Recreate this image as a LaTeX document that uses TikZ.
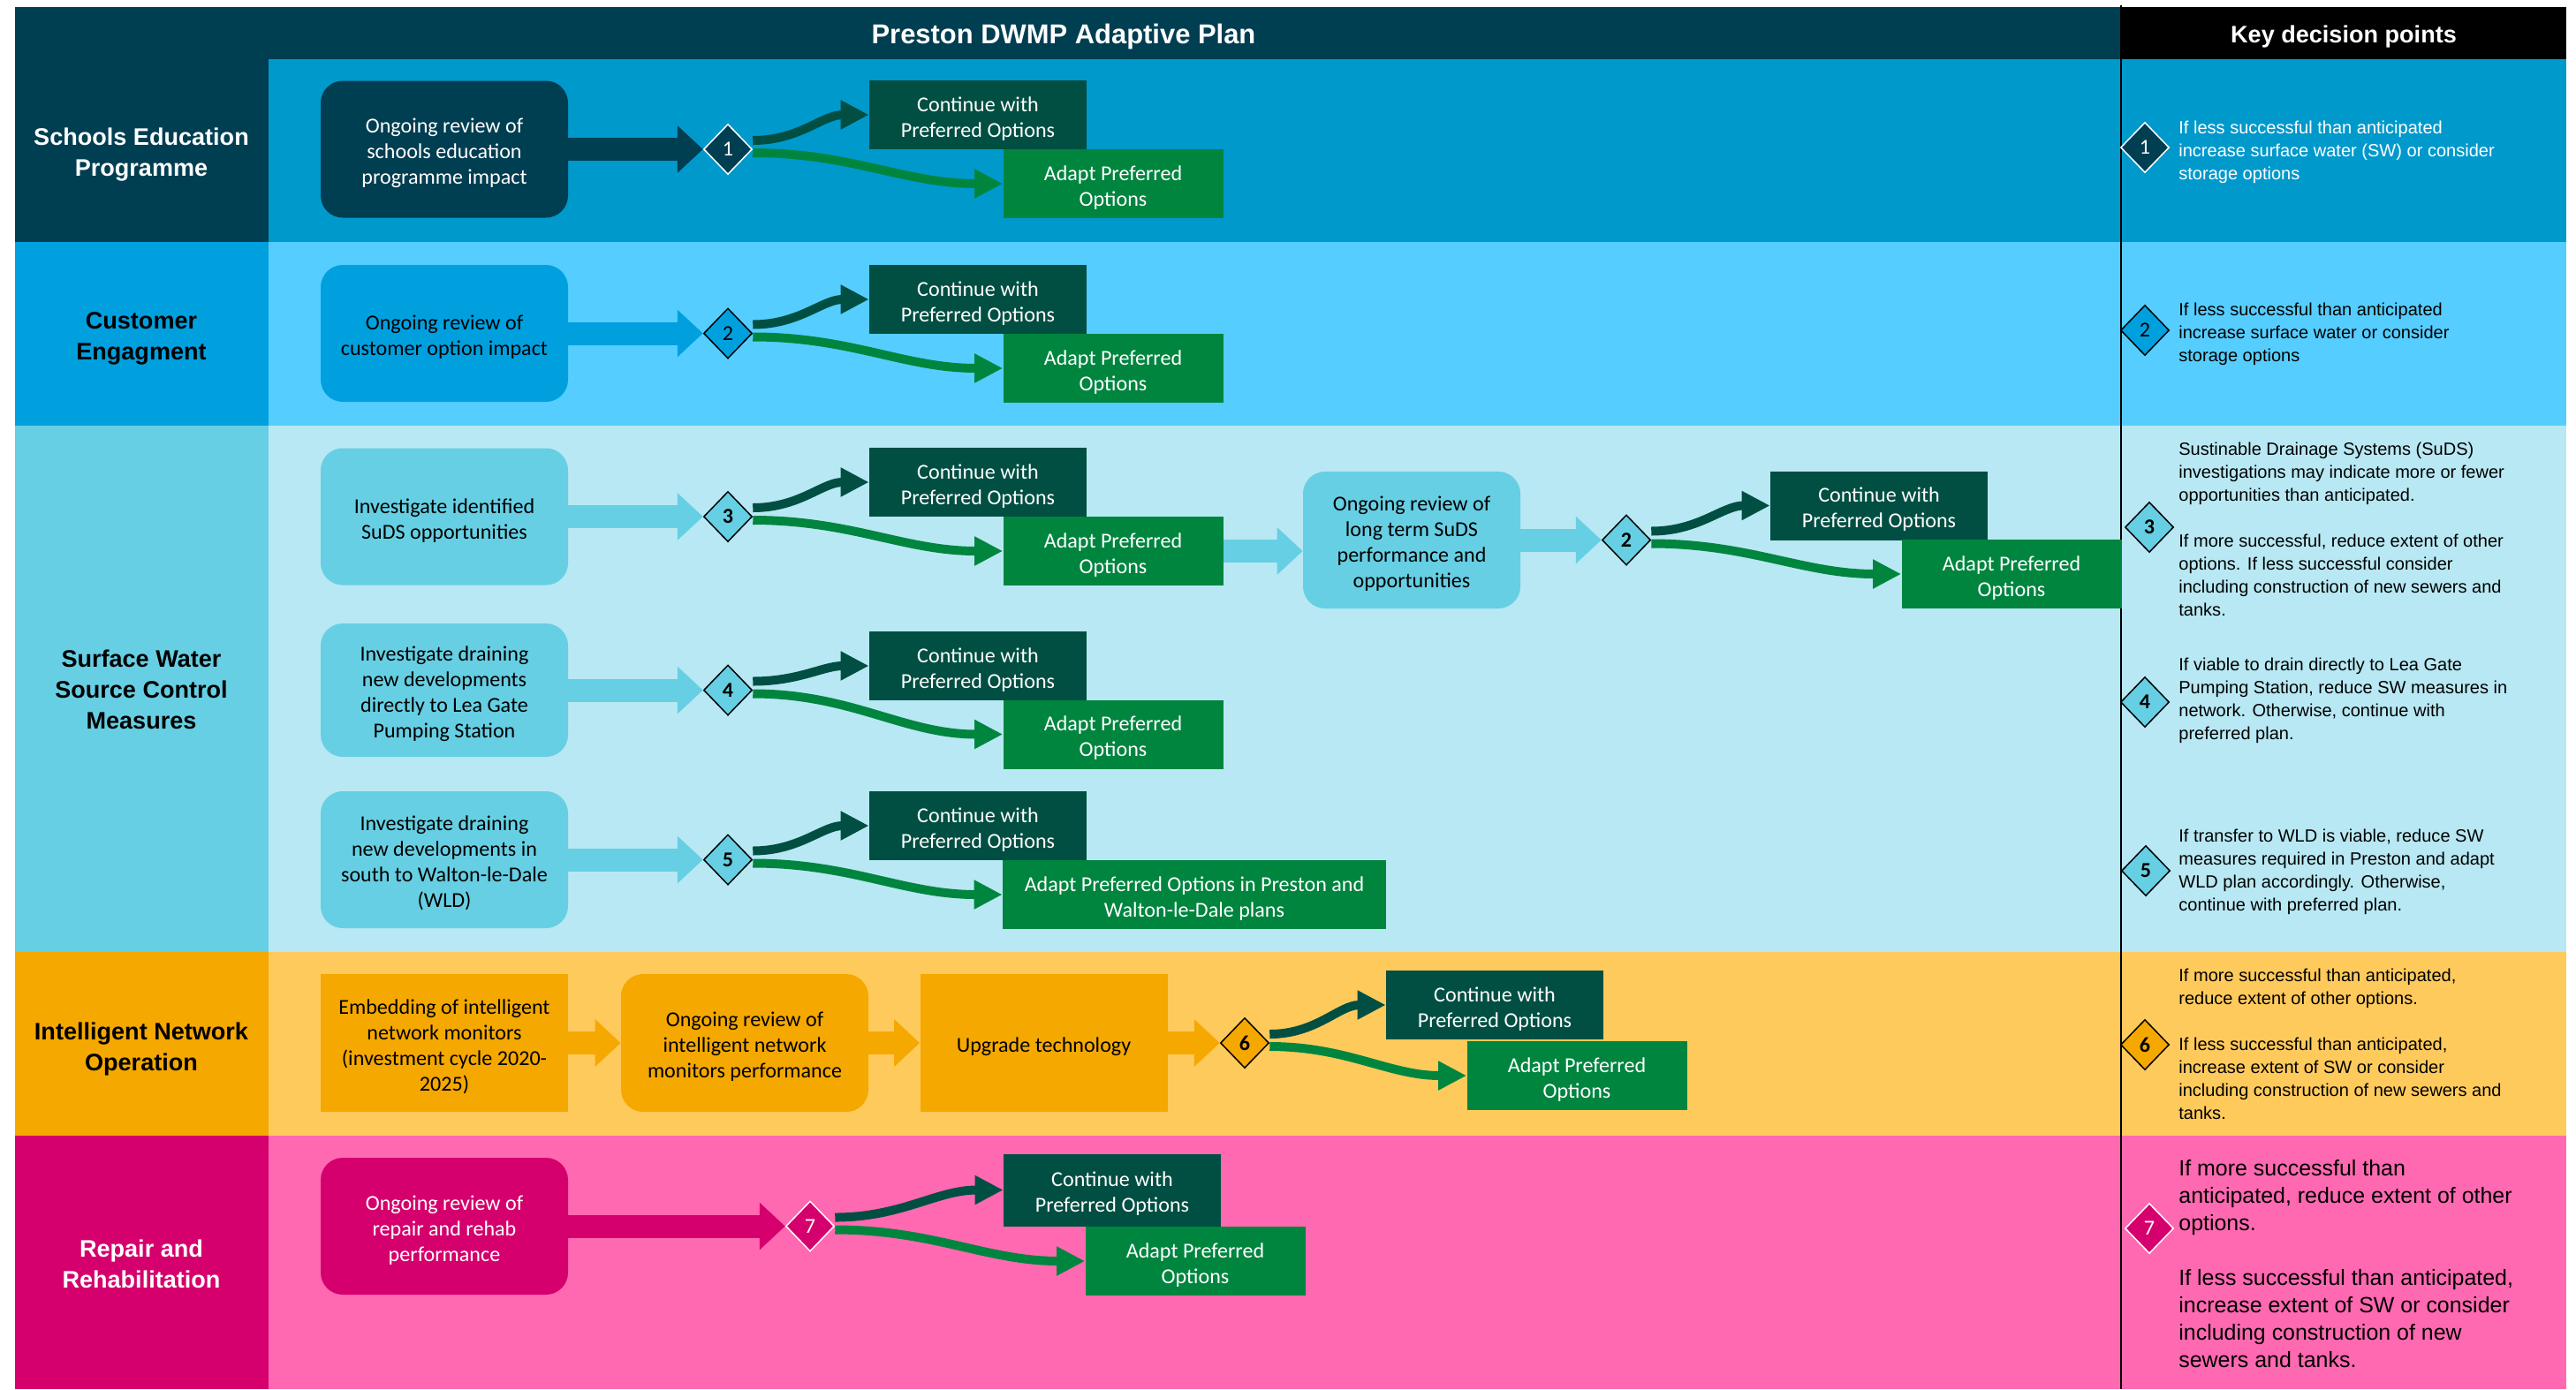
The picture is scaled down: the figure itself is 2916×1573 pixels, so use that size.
\documentclass[tikz,border=0pt]{standalone}
\usepackage{fontspec}
\setmainfont{Carlito}
\newfontfamily\arialf{Liberation Sans}
\usetikzlibrary{shapes.geometric,arrows.meta,positioning}

\definecolor{hdrblue}{HTML}{003E51}
\definecolor{rowa}{HTML}{0099CC}
\definecolor{lanb}{HTML}{00A0DF}
\definecolor{rowb}{HTML}{55CEFF}
\definecolor{lanc}{HTML}{66CFE3}
\definecolor{rowc}{HTML}{B8E8F3}
\definecolor{land}{HTML}{F5A800}
\definecolor{rowd}{HTML}{FFCA5C}
\definecolor{lanep}{HTML}{D5006D}
\definecolor{rowe}{HTML}{FF69B1}
\definecolor{contgreen}{HTML}{004F42}
\definecolor{adaptgreen}{HTML}{00853F}

% strut that lowers box text a little
\newcommand{\bxs}{\rule{0pt}{14.2pt}}

\begin{document}
\begin{tikzpicture}[x=0.2mm,y=-0.2mm,
	boxtext/.style={font=\fontsize{13.7}{16.5}\selectfont, align=center, inner sep=0pt},
	rbox/.style={boxtext, rounded corners=5mm, minimum width=56mm, minimum height=31mm},
	sbox/.style={boxtext, minimum width=56mm, minimum height=31.2mm},
	contbox/.style={boxtext, fill=contgreen, text=white, minimum width=49.2mm, minimum height=15.6mm},
	adaptbox/.style={boxtext, fill=adaptgreen, text=white, minimum width=49.8mm, minimum height=15.6mm},
	dia/.style={diamond, aspect=1, minimum width=11mm, minimum height=11.4mm, inner sep=0pt, line width=0.3mm, font=\fontsize{13.7}{16}\selectfont},
	boldnum/.style={font=\fontsize{13.7}{16}\selectfont\bfseries},
	blk/.style={line width=5.2mm, -{Triangle[length=5.8mm,width=10.4mm]}},
	carr/.style={line width=2mm, -{Triangle[length=6.4mm,width=6.2mm]}},
	lanetitle/.style={font=\arialf\bfseries\fontsize{15.4}{19.9}\selectfont, align=center},
	keytext/.style={font=\arialf\fontsize{11.4}{14.8}\selectfont, align=left, anchor=west, inner sep=0pt},
	]
	\useasboundingbox (0,0) rectangle (2916,1573);
	
	% lanes
	\fill[hdrblue] (17,8) rectangle (2401,67);
	\fill[black] (2401,8) rectangle (2905,67);
	\fill[hdrblue] (17,67) rectangle (304,274);
	\fill[rowa] (304,67) rectangle (2905,274);
	\fill[lanb] (17,274) rectangle (304,482);
	\fill[rowb] (304,274) rectangle (2905,482);
	\fill[lanc] (17,482) rectangle (304,1078);
	\fill[rowc] (304,482) rectangle (2905,1078);
	\fill[land] (17,1078) rectangle (304,1286);
	\fill[rowd] (304,1078) rectangle (2905,1286);
	\fill[lanep] (17,1286) rectangle (304,1573);
	\fill[rowe] (304,1286) rectangle (2905,1573);
	\draw[line width=0.4mm] (2401,6) -- (2401,1573);
	
	\node[font=\arialf\bfseries\fontsize{17.6}{20}\selectfont, text=white] (title) at (1204,41) {Preston DWMP Adaptive Plan};
	\node[font=\arialf\bfseries\fontsize{15.4}{18}\selectfont, text=white] (keyhead) at (2653,41) {Key decision points};
	
	\node[lanetitle, text=white] (l1) at (160,175) {Schools Education\\Programme};
	\node[lanetitle] (l2) at (160,383) {Customer\\Engagment};
	\node[lanetitle] (l3) at (160,781) {Surface Water\\Source Control\\Measures};
	\node[lanetitle] (l4) at (160,1188) {Intelligent Network\\Operation};
	\node[lanetitle, text=white] (l5) at (160,1431) {Repair and\\Rehabilitation};
	
	% schools education
	\node[rbox, fill=hdrblue, text=white] (b1) at (503,169) {\bxs Ongoing review of\\schools education\\programme impact};
	\node[dia, fill=hdrblue, draw=white, text=white] (d1) at (824,169) {1};
	\node[contbox] (c1) at (1107,130) {\bxs Continue with\\Preferred Options};
	\node[adaptbox] (a1) at (1260,208) {\bxs Adapt Preferred\\Options};
	\draw[blk, hdrblue] (b1) -- (d1);
	\draw[carr, contgreen] ([yshift=2mm]d1.east) to[out=0,in=180] (c1.west);
	\draw[carr, adaptgreen] ([yshift=-0.8mm]d1.east) to[out=0,in=180] (a1.west);
	
	% customer engagement
	\node[rbox, fill=lanb] (b2) at (503,377.5) {\bxs Ongoing review of\\customer option impact};
	\node[dia, fill=lanb, draw=black] (d2) at (824,377.5) {2};
	\node[contbox] (c2) at (1107,339) {\bxs Continue with\\Preferred Options};
	\node[adaptbox] (a2) at (1260,417) {\bxs Adapt Preferred\\Options};
	\draw[blk, lanb] (b2) -- (d2);
	\draw[carr, contgreen] ([yshift=2mm]d2.east) to[out=0,in=180] (c2.west);
	\draw[carr, adaptgreen] ([yshift=-0.8mm]d2.east) to[out=0,in=180] (a2.west);
	
	% surface water source control
	\node[rbox, fill=lanc] (b3) at (503,585) {\bxs Investigate identified\\SuDS opportunities};
	\node[dia, boldnum, fill=lanc, draw=black] (d3) at (824,585) {3};
	\node[contbox] (c3) at (1107,546) {\bxs Continue with\\Preferred Options};
	\node[adaptbox] (a3) at (1260,624) {\bxs Adapt Preferred\\Options};
	\draw[blk, lanc] (b3) -- (d3);
	\draw[carr, contgreen] ([yshift=2mm]d3.east) to[out=0,in=180] (c3.west);
	\draw[carr, adaptgreen] ([yshift=-0.8mm]d3.east) to[out=0,in=180] (a3.west);
	
	\node[rbox, fill=lanc, minimum width=49.2mm] (r3) at (1598,611.5) {\bxs Ongoing review of\\long term SuDS\\performance and\\opportunities};
	\node[dia, boldnum, fill=lanc, draw=black] (e3) at (1841,611.5) {2};
	\node[contbox] (c3b) at (2127,572.5) {\bxs Continue with\\Preferred Options};
	\node[adaptbox] (a3b) at (2277,650) {\bxs Adapt Preferred\\Options};
	\draw[blk, lanc] (a3.east) -- (a3.east -| r3.west);
	\draw[blk, lanc] (r3) -- (e3);
	\draw[carr, contgreen] ([yshift=2mm]e3.east) to[out=0,in=180] (c3b.west);
	\draw[carr, adaptgreen] ([yshift=-0.8mm]e3.east) to[out=0,in=180] (a3b.west);
	
	\node[rbox, fill=lanc, minimum height=30.2mm] (b4) at (503,781.5) {\bxs Investigate draining\\new developments\\directly to Lea Gate\\Pumping Station};
	\node[dia, boldnum, fill=lanc, draw=black] (d4) at (824,781.5) {4};
	\node[contbox] (c4) at (1107,754) {\bxs Continue with\\Preferred Options};
	\node[adaptbox] (a4) at (1260,831.5) {\bxs Adapt Preferred\\Options};
	\draw[blk, lanc] (b4) -- (d4);
	\draw[carr, contgreen] ([yshift=2mm]d4.east) to[out=0,in=180] (c4.west);
	\draw[carr, adaptgreen] ([yshift=-0.8mm]d4.east) to[out=0,in=180] (a4.west);
	
	\node[rbox, fill=lanc] (b5) at (503,973.5) {\bxs Investigate draining\\new developments in\\south to Walton-le-Dale\\(WLD)};
	\node[dia, boldnum, fill=lanc, draw=black] (d5) at (824,973.5) {5};
	\node[contbox] (c5) at (1107,935) {\bxs Continue with\\Preferred Options};
	\node[adaptbox, minimum width=86.8mm] (a5) at (1352,1013) {\bxs Adapt Preferred Options in Preston and\\Walton-le-Dale plans};
	\draw[blk, lanc] (b5) -- (d5);
	\draw[carr, contgreen] ([yshift=2mm]d5.east) to[out=0,in=180] (c5.west);
	\draw[carr, adaptgreen] ([yshift=-0.8mm]d5.east) to[out=0,in=180] (a5.west);
	
	% intelligent network operation
	\node[sbox, fill=land] (b6a) at (503,1181) {\bxs Embedding of intelligent\\network monitors\\(investment cycle 2020-\\2025)};
	\node[rbox, fill=land, minimum height=31.2mm] (b6b) at (843,1181) {\bxs Ongoing review of\\intelligent network\\monitors performance};
	\node[sbox, fill=land] (b6c) at (1181.5,1181) {\bxs Upgrade technology};
	\node[dia, boldnum, fill=land, draw=black] (d6) at (1409,1181) {6};
	\node[contbox] (c6) at (1692,1138) {\bxs Continue with\\Preferred Options};
	\node[adaptbox] (a6) at (1785,1218) {\bxs Adapt Preferred\\Options};
	\draw[blk, land] (b6a) -- (b6b);
	\draw[blk, land] (b6b) -- (b6c);
	\draw[blk, land] (b6c) -- (d6);
	\draw[carr, contgreen] ([yshift=2mm]d6.east) to[out=0,in=180] (c6.west);
	\draw[carr, adaptgreen] ([yshift=-0.8mm]d6.east) to[out=0,in=180] (a6.west);
	
	% repair and rehabilitation
	\node[rbox, fill=lanep, text=white] (b7) at (503,1388.5) {\bxs Ongoing review of\\repair and rehab\\performance};
	\node[dia, fill=lanep, draw=white, text=white] (d7) at (917,1388.5) {7};
	\node[contbox, minimum height=16.4mm] (c7) at (1259,1347.5) {\bxs Continue with\\Preferred Options};
	\node[adaptbox] (a7) at (1353,1428) {\bxs Adapt Preferred\\Options};
	\draw[blk, lanep] (b7) -- (d7);
	\draw[carr, contgreen] ([yshift=2mm]d7.east) to[out=0,in=180] (c7.west);
	\draw[carr, adaptgreen] ([yshift=-0.8mm]d7.east) to[out=0,in=180] (a7.west);
	
	% key decision points
	\node[dia, fill=hdrblue, draw=white, text=white] (k1) at (2428,167) {1};
	\node[keytext, text=white] (t1) at (2466,172) {If less successful than anticipated\\increase surface water (SW) or consider\\storage options};
	\node[dia, fill=lanb, draw=black] (k2) at (2428,374) {2};
	\node[keytext] (t2) at (2466,378) {If less successful than anticipated\\increase surface water or consider\\storage options};
	\node[dia, boldnum, fill=lanc, draw=black] (k3) at (2433,597) {3};
	\node[keytext] (t3) at (2466,599) {Sustinable Drainage Systems (SuDS)\\investigations may indicate more or fewer\\opportunities than anticipated.\\[14.8pt]If more successful, reduce extent of other\\options. If less successful consider\\including construction of new sewers and\\tanks.};
	\node[dia, boldnum, fill=lanc, draw=black] (k4) at (2428,795) {4};
	\node[keytext] (t4) at (2466,793) {If viable to drain directly to Lea Gate\\Pumping Station, reduce SW measures in\\network. Otherwise, continue with\\preferred plan.};
	\node[dia, boldnum, fill=lanc, draw=black] (k5) at (2429,986) {5};
	\node[keytext] (t5) at (2466,987) {If transfer to WLD is viable, reduce SW\\measures required in Preston and adapt\\WLD plan accordingly. Otherwise,\\continue with preferred plan.};
	\node[dia, boldnum, fill=land, draw=black] (k6) at (2428,1183) {6};
	\node[keytext] (t6) at (2466,1182) {If more successful than anticipated,\\reduce extent of other options.\\[14.8pt]If less successful than anticipated,\\increase extent of SW or consider\\including construction of new sewers and\\tanks.};
	\node[dia, fill=lanep, draw=white, text=white] (k7) at (2433,1391) {7};
	\node[keytext, font=\arialf\fontsize{14.2}{17.6}\selectfont] (t7) at (2466,1431) {If more successful than\\anticipated, reduce extent of other\\options.\\[17.6pt]If less successful than anticipated,\\increase extent of SW or consider\\including construction of new\\sewers and tanks.};
\end{tikzpicture}
\end{document}
